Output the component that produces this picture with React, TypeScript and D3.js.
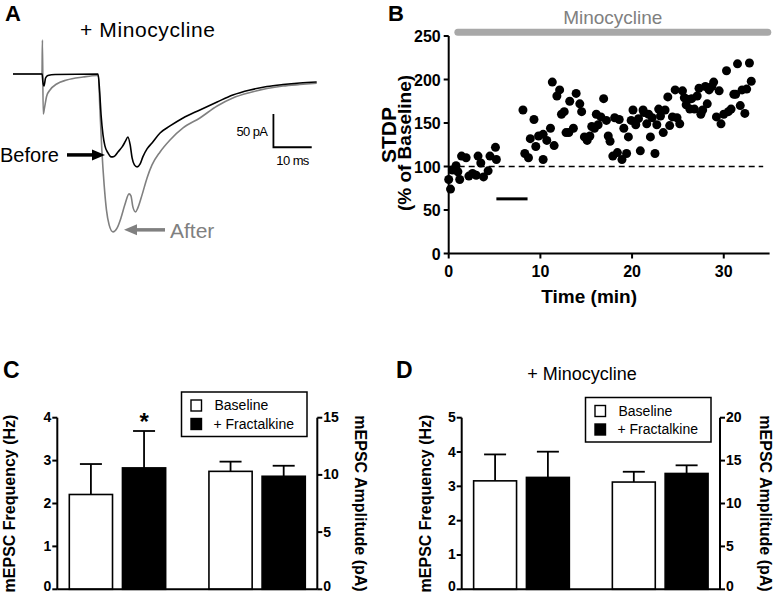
import React from "react";
import * as d3 from "d3";

const FONT = "'Liberation Sans', Arial, Helvetica, sans-serif";

// ---------- Panel A: traces (time in ms, current in pA) ----------
const beforeT = [0, 7.6, 7.8, 8.1, 8.5, 9.1, 11.0, 22.2, 22.6, 23.0, 23.5, 24.0, 24.8, 25.6, 26.4, 27.4, 28.5, 29.4, 30.0, 30.6, 31.1, 31.7, 32.4, 33.2, 33.9, 35.0, 36.3, 38.4, 41.0, 44.4, 48.8, 53.3, 57.4, 61.9, 66.3, 70.5, 74.9, 79.3];
const beforeI = [0, 0, -12, -18, -6, -2.2, -0.8, 0, -24, -61.5, -91.5, -108, -118.5, -124.5, -123.8, -117, -109.5, -100.5, -94.5, -106.5, -126, -136.5, -139.5, -135, -124.5, -112.5, -103.5, -88.5, -78, -66, -54, -42, -31.5, -24, -18.8, -15.8, -13.5, -12];
const afterT = [0, 7.57, 7.68, 7.89, 8.22, 8.8, 9.66, 11.4, 14.0, 18.3, 21.9, 22.3, 22.7, 23.2, 23.8, 24.4, 25.1, 26.1, 27.2, 28.2, 29.2, 30.3, 30.8, 31.3, 32.0, 32.6, 33.7, 35.0, 36.3, 38.4, 41.0, 44.4, 48.8, 53.3, 57.4, 61.9, 66.3, 70.5, 74.9, 79.3];
const afterI = [0, 0, 51, -60, -51, -33, -24, -15, -9, -4.5, -2.2, -3, -54, -114, -166.5, -204, -226.5, -237, -231, -216, -196.5, -180, -183, -199.5, -207, -201, -181.5, -156, -136.5, -117, -99, -81, -66, -48, -36, -27.8, -21.8, -18, -15.8, -14];
const scaleBarMs = 10;
const scaleBarPA = 50;

// ---------- Panel B: STDP scatter ----------
const stdpTime = [0.0, 0.2, 0.4, 0.8, 1.0, 1.2, 1.4, 1.9, 2.2, 2.6, 3.0, 3.2, 3.5, 3.8, 4.3, 4.5, 5.1, 5.2,
  8.1, 8.3, 8.7, 8.9, 9.3, 9.5, 9.8, 10.3, 10.3, 10.7, 11.1, 11.3, 11.5, 11.8, 12.1, 12.3, 12.6, 12.8, 13.1, 13.2, 13.6, 13.9,
  14.3, 14.5, 14.8, 15.1, 15.4, 15.6, 15.9, 16.1, 16.3, 16.6, 16.9, 17.2, 17.4, 17.6, 17.9, 18.1, 18.4, 18.6, 18.9, 19.1,
  19.4, 19.6, 19.9, 20.1, 20.4, 20.7, 20.9, 21.2, 21.3, 21.6, 21.8, 22.0, 22.2, 22.5, 22.7, 22.9, 23.1, 23.4, 23.6, 23.9,
  24.1, 24.4, 24.7, 24.9, 25.2, 25.5, 25.7, 25.9, 26.1, 26.3, 26.5, 26.8, 27.1, 27.3, 27.5, 27.7, 28.0, 28.2, 28.4, 28.7,
  28.9, 29.2, 29.5, 29.7, 30.0, 30.3, 30.5, 30.8, 31.1, 31.3, 31.5, 31.8, 32.0, 32.3, 32.5, 32.8, 33.0];
const stdpValue = [85, 74, 96, 101, 94, 85, 112, 110, 89, 92, 90, 112, 104, 88, 95, 112, 122, 108,
  165, 115, 110, 132, 154, 123, 135, 108, 137, 130, 144, 197, 124, 181, 188, 160, 163, 139, 139, 175, 144, 184,
  172, 163, 134, 130, 135, 146, 144, 160, 148, 157, 178, 153, 135, 129, 112, 156, 116, 154, 108, 144,
  115, 134, 153, 165, 148, 155, 118, 165, 162, 149, 160, 134, 156, 115, 148, 166, 158, 139, 165, 180,
  147, 157, 188, 156, 149, 187, 179, 171, 177, 166, 178, 166, 181, 190, 160, 165, 192, 172, 188, 192,
  197, 157, 187, 149, 160, 210, 163, 166, 183, 183, 218, 170, 188, 161, 189, 219, 198];
const bYTicks = [0, 50, 100, 150, 200, 250];
const bXTicks = [0, 10, 20, 30];
const minocyclineSpan = [1.0, 34.8];
const stimSpan = [5.2, 8.6];
const stimLevel = 62.8;
const baselineLevel = 100;

// ---------- Panels C & D: bar charts ----------
const conditions = ["Baseline", "+ Fractalkine"];
const measures = ["Frequency", "Amplitude"];
const cFreqMean = [2.21, 2.83];
const cFreqSem = [0.71, 0.86];
const cAmpMean = [10.31, 9.88];
const cAmpSem = [0.85, 0.92];
const dFreqMean = [3.16, 3.26];
const dFreqSem = [0.77, 0.75];
const dAmpMean = [12.5, 13.5];
const dAmpSem = [1.2, 0.95];
const cFreqTicks = [0, 1, 2, 3, 4];
const cAmpTicks = [0, 5, 10, 15];
const dFreqTicks = [0, 1, 2, 3, 4, 5];
const dAmpTicks = [0, 5, 10, 15, 20];

function PanelA() {
  const x = d3.scaleLinear().domain([0, 79.3]).range([13, 316.7]);
  const y = d3.scaleLinear().domain([0, -50]).range([74, 107.3]);
  const line = (ts: number[], is: number[]) =>
    d3.line<number>().x((_, i) => x(ts[i])).y((_, i) => y(is[i])).curve(d3.curveMonotoneX)(ts) || "";
  const sbT = 68, sbI = -110;
  const arrowY1 = y(-121.5);
  const arrowY2 = y(-234);
  return (
    <g>
      <text x={5} y={21} fontSize={22} fontWeight="bold" fontFamily={FONT}>A</text>
      <text x={80} y={37} fontSize={21} fontFamily={FONT} letterSpacing={0.6}>+ Minocycline</text>
      <path d={line(afterT, afterI)} fill="none" stroke="#808080" strokeWidth={1.6} />
      <path d={line(beforeT, beforeI)} fill="none" stroke="#000" strokeWidth={1.6} />
      <path d={`M${x(sbT)},${y(sbI + scaleBarPA)} V${y(sbI)} H${x(sbT + scaleBarMs)}`} fill="none" stroke="#000" strokeWidth={1.8} />
      <text x={x(sbT) - 6} y={y(sbI + scaleBarPA / 2) + 5} fontSize={13} textAnchor="end" fontFamily={FONT} letterSpacing={-0.6}>50 pA</text>
      <text x={(x(sbT) + x(sbT + scaleBarMs)) / 2} y={y(sbI) + 18} fontSize={13} textAnchor="middle" fontFamily={FONT} letterSpacing={-0.6}>10 ms</text>
      <text x={0} y={arrowY1 + 7} fontSize={20} fontFamily={FONT}>Before</text>
      <line x1={67} y1={arrowY1} x2={93} y2={arrowY1} stroke="#000" strokeWidth={3.5} />
      <path d={`M${105},${arrowY1} L${92},${arrowY1 - 5.5} L${92},${arrowY1 + 5.5} Z`} fill="#000" />
      <line x1={136} y1={arrowY2} x2={165} y2={arrowY2} stroke="#808080" strokeWidth={3.5} />
      <path d={`M${124},${arrowY2} L${137},${arrowY2 - 5.5} L${137},${arrowY2 + 5.5} Z`} fill="#808080" />
      <text x={170} y={arrowY2 + 8} fontSize={21} fill="#808080" fontFamily={FONT}>After</text>
    </g>
  );
}

function PanelB() {
  const x = d3.scaleLinear().domain([0, 35]).range([448.7, 769.6]);
  const y = d3.scaleLinear().domain([0, 250]).range([253.5, 36]);
  return (
    <g fontFamily={FONT}>
      <text x={388} y={21} fontSize={22} fontWeight="bold">B</text>
      <text x={(x(minocyclineSpan[0]) + x(minocyclineSpan[1])) / 2} y={24} fontSize={19} fill="#808080" textAnchor="middle">Minocycline</text>
      <line x1={x(minocyclineSpan[0])} x2={x(minocyclineSpan[1])} y1={32.3} y2={32.3} stroke="#a8a8a8" strokeWidth={7} strokeLinecap="round" />
      <line x1={x(0)} x2={x(34.3)} y1={y(baselineLevel)} y2={y(baselineLevel)} stroke="#000" strokeWidth={1.5} strokeDasharray="6,4" />
      <line x1={x(stimSpan[0])} x2={x(stimSpan[1])} y1={y(stimLevel)} y2={y(stimLevel)} stroke="#000" strokeWidth={3} />
      {stdpTime.map((t, i) => (
        <circle key={i} cx={x(t)} cy={y(stdpValue[i])} r={4.5} fill="#000" />
      ))}
      <line x1={x(0)} x2={x(0)} y1={y(0)} y2={y(250)} stroke="#000" strokeWidth={2} />
      <line x1={x(0)} x2={x(35)} y1={y(0)} y2={y(0)} stroke="#000" strokeWidth={2} />
      {bYTicks.map((t) => (
        <g key={t}>
          <line x1={x(0) - 5} x2={x(0)} y1={y(t)} y2={y(t)} stroke="#000" strokeWidth={2} />
          <text x={x(0) - 8} y={y(t) + 6} fontSize={16} fontWeight="bold" textAnchor="end">{t}</text>
        </g>
      ))}
      {bXTicks.map((t) => (
        <g key={t}>
          <line x1={x(t)} x2={x(t)} y1={y(0)} y2={y(0) + 5} stroke="#000" strokeWidth={2} />
          <text x={x(t)} y={y(0) + 23} fontSize={16} fontWeight="bold" textAnchor="middle">{t}</text>
        </g>
      ))}
      <text x={(x(0) + x(35)) / 2 - 20} y={303} fontSize={19} fontWeight="bold" textAnchor="middle">Time (min)</text>
      <text transform={`translate(396,135) rotate(-90)`} fontSize={21} fontWeight="bold" textAnchor="middle">STDP</text>
      <text transform={`translate(411,143) rotate(-90)`} fontSize={19} fontWeight="bold" textAnchor="middle">(% of Baseline)</text>
    </g>
  );
}

type BarProps = {
  left: number; right: number; top: number; bottom: number;
  freqMean: number[]; freqSem: number[]; ampMean: number[]; ampSem: number[];
  freqMax: number; ampMax: number; freqTicks: number[]; ampTicks: number[];
  legend: { x: number; y: number }; label: string; labelX: number; title?: boolean;
  leftLabelX: number; rightLabelX: number; star?: boolean;
};

function BarPanel(p: BarProps) {
  const outer = d3.scaleBand().domain(measures).range([p.left, p.right]).paddingInner(0.31).paddingOuter(0.086);
  const inner = d3.scaleBand().domain(conditions).range([0, outer.bandwidth()]).paddingInner(0.187);
  const yF = d3.scaleLinear().domain([0, p.freqMax]).range([p.bottom, p.top]);
  const yA = d3.scaleLinear().domain([0, p.ampMax]).range([p.bottom, p.top]);
  const bars: { m: string; c: string; i: number; mean: number; sem: number; y: d3.ScaleLinear<number, number> }[] = [];
  conditions.forEach((c, i) => bars.push({ m: "Frequency", c, i, mean: p.freqMean[i], sem: p.freqSem[i], y: yF }));
  conditions.forEach((c, i) => bars.push({ m: "Amplitude", c, i, mean: p.ampMean[i], sem: p.ampSem[i], y: yA }));
  const bw = inner.bandwidth();
  const midY = (p.top + p.bottom) / 2;
  return (
    <g fontFamily={FONT}>
      <text x={p.labelX} y={378} fontSize={23} fontWeight="bold">{p.label}</text>
      {p.title && <text x={582} y={380} fontSize={18} textAnchor="middle">+ Minocycline</text>}
      {bars.map((b, k) => {
        const x0 = (outer(b.m) || 0) + (inner(b.c) || 0);
        const cx = x0 + bw / 2;
        const yTop = b.y(b.mean);
        const yErr = b.y(b.mean + b.sem);
        return (
          <g key={k}>
            <line x1={cx} x2={cx} y1={yTop} y2={yErr} stroke="#000" strokeWidth={1.8} />
            <line x1={cx - 11} x2={cx + 11} y1={yErr} y2={yErr} stroke="#000" strokeWidth={1.8} />
            <rect x={x0} y={yTop} width={bw} height={p.bottom - yTop} fill={b.i === 0 ? "#fff" : "#000"} stroke="#000" strokeWidth={1.6} />
          </g>
        );
      })}
      {p.star && (() => {
        const x0 = (outer("Frequency") || 0) + (inner(conditions[1]) || 0) + bw / 2;
        return <text x={x0} y={yF(p.freqMean[1] + p.freqSem[1]) - 1} fontSize={24} fontWeight="bold" textAnchor="middle">*</text>;
      })()}
      <line x1={p.left} x2={p.left} y1={p.bottom} y2={p.top} stroke="#000" strokeWidth={2} />
      <line x1={p.right} x2={p.right} y1={p.bottom} y2={p.top} stroke="#000" strokeWidth={2} />
      <line x1={p.left} x2={p.right} y1={p.bottom} y2={p.bottom} stroke="#000" strokeWidth={2} />
      {p.freqTicks.map((t) => (
        <g key={"f" + t}>
          <line x1={p.left - 5} x2={p.left} y1={yF(t)} y2={yF(t)} stroke="#000" strokeWidth={2} />
          <text x={p.left - 6} y={yF(t) + (t === 0 ? 1.5 : 4.5)} fontSize={14} fontWeight="bold" textAnchor="end">{t}</text>
        </g>
      ))}
      {p.ampTicks.map((t) => (
        <g key={"a" + t}>
          <line x1={p.right} x2={p.right + 5} y1={yA(t)} y2={yA(t)} stroke="#000" strokeWidth={2} />
          <text x={p.right + 6} y={yA(t) + (t === 0 ? 1.5 : 4.5)} fontSize={14} fontWeight="bold" textAnchor="start">{t}</text>
        </g>
      ))}
      <text transform={`translate(${p.leftLabelX},${midY}) rotate(-90)`} fontSize={16} fontWeight="bold" textAnchor="middle">mEPSC Frequency (Hz)</text>
      <text transform={`translate(${p.rightLabelX},${midY}) rotate(90)`} fontSize={16} fontWeight="bold" textAnchor="middle">mEPSC Amplitude (pA)</text>
      <g transform={`translate(${p.legend.x},${p.legend.y})`}>
        <rect x={0} y={0} width={125.5} height={44.5} fill="#fff" stroke="#000" strokeWidth={1.5} />
        {conditions.map((c, i) => (
          <g key={c}>
            <rect x={9.5} y={8 + i * 18.5} width={10.5} height={11} fill={i === 0 ? "#fff" : "#000"} stroke="#000" strokeWidth={1.4} />
            <text x={i === 0 ? 33 : 32} y={18 + i * 18.5} fontSize={14}>{c}</text>
          </g>
        ))}
      </g>
    </g>
  );
}

export default function App() {
  return (
    <svg width={775} height={594} style={{ position: "absolute", left: 0, top: 0, background: "#fff" }}>
      <rect width={775} height={594} fill="#fff" />
      <PanelA />
      <PanelB />
      <BarPanel left={57.3} right={317.3} top={417.7} bottom={589.3}
        freqMean={cFreqMean} freqSem={cFreqSem} ampMean={cAmpMean} ampSem={cAmpSem}
        freqMax={4} ampMax={15} freqTicks={cFreqTicks} ampTicks={cAmpTicks}
        legend={{ x: 181.5, y: 392 }} label="C" labelX={3} leftLabelX={15} rightLabelX={355} star />
      <BarPanel left={461.7} right={720} top={417.7} bottom={589.3}
        freqMean={dFreqMean} freqSem={dFreqSem} ampMean={dAmpMean} ampSem={dAmpSem}
        freqMax={5} ampMax={20} freqTicks={dFreqTicks} ampTicks={dAmpTicks}
        legend={{ x: 585.5, y: 397.5 }} label="D" labelX={396} title leftLabelX={431} rightLabelX={760} />
    </svg>
  );
}
